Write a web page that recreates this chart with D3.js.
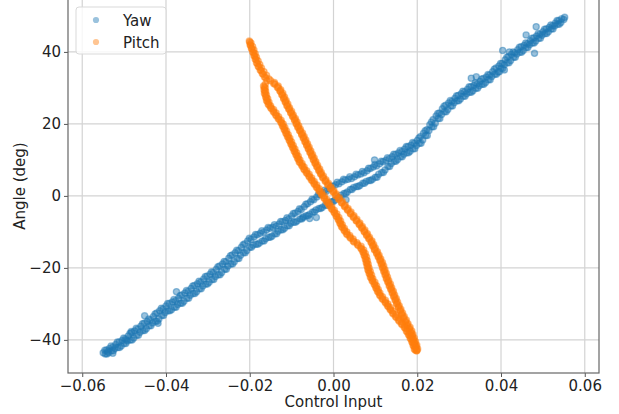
<!DOCTYPE html>
<html>
<head>
<meta charset="utf-8">
<script src="https://cdn.jsdelivr.net/npm/d3@7"></script>
<style>
  body { margin: 0; background: #fff; }
  text { font-family: "DejaVu Sans", sans-serif; }
</style>
</head>
<body>
<div id="chart"></div>
<script>

// tick labels and series
const xTicks = [-0.06, -0.04, -0.02, 0, 0.02, 0.04, 0.06];
const yTicks = [-40, -20, 0, 20, 40];
const seriesNames = ["Yaw", "Pitch"];
const seriesColors = ["#1f77b4", "#ff7f0e"];

// Yaw samples [control input, angle]: two branches of the loop, repeated passes, and strays
const yawUpper = [[-0.0550,-43.6],[-0.0535,-42.4],[-0.0520,-41.3],[-0.0505,-40.2],[-0.0490,-38.9],[-0.0475,-37.5],
  [-0.0460,-36.2],[-0.0445,-34.9],[-0.0430,-33.5],[-0.0415,-31.9],[-0.0400,-30.6],[-0.0385,-29.5],[-0.0370,-28.4],
  [-0.0355,-27.0],[-0.0340,-25.7],[-0.0325,-24.4],[-0.0310,-23.1],[-0.0295,-21.8],[-0.0280,-20.4],[-0.0265,-18.9],
  [-0.0250,-17.3],[-0.0235,-15.8],[-0.0220,-14.3],[-0.0205,-12.5],[-0.0190,-11.4],[-0.0175,-10.4],[-0.0160,-9.5],
  [-0.0145,-8.7],[-0.0130,-7.8],[-0.0115,-6.8],[-0.0100,-5.6],[-0.0085,-4.3],[-0.0070,-3.0],[-0.0055,-1.6],
  [-0.0040,-0.3],[-0.0025,0.9],[-0.0010,2.0],[0.0005,3.1],[0.0020,3.9],[0.0035,4.6],[0.0050,5.3],[0.0065,6.1],
  [0.0080,7.0],[0.0095,8.0],[0.0110,8.9],[0.0125,9.9],[0.0140,10.9],[0.0155,11.9],[0.0170,13.0],[0.0185,14.1],
  [0.0200,15.4],[0.0215,17.4],[0.0230,19.8],[0.0245,22.2],[0.0260,24.2],[0.0275,25.8],[0.0290,27.1],[0.0305,28.4],
  [0.0320,29.6],[0.0335,30.7],[0.0350,31.8],[0.0365,33.0],[0.0380,34.5],[0.0395,36.1],[0.0410,37.8],[0.0425,39.3],
  [0.0440,40.6],[0.0455,41.8],[0.0470,43.1],[0.0485,44.4],[0.0500,45.6],[0.0515,46.8],[0.0530,48.0],[0.0545,49.2]];

const yawUpper2 = [[-0.0542,-42.8],[-0.0527,-42.0],[-0.0512,-40.6],[-0.0497,-39.7],[-0.0482,-38.0],[-0.0467,-37.0],
  [-0.0452,-35.4],[-0.0437,-34.4],[-0.0422,-32.5],[-0.0407,-31.4],[-0.0392,-29.9],[-0.0377,-29.1],[-0.0362,-27.5],
  [-0.0347,-26.5],[-0.0332,-24.9],[-0.0317,-23.9],[-0.0302,-22.3],[-0.0287,-21.3],[-0.0272,-19.5],[-0.0257,-18.3],
  [-0.0242,-16.4],[-0.0227,-15.2],[-0.0212,-13.3],[-0.0197,-12.1],[-0.0182,-10.8],[-0.0167,-10.1],[-0.0152,-9.0],
  [-0.0137,-8.4],[-0.0122,-7.2],[-0.0107,-6.4],[-0.0092,-4.8],[-0.0077,-3.8],[-0.0062,-2.2],[-0.0047,-1.1],
  [-0.0032,0.4],[-0.0017,1.3],[-0.0002,2.7],[0.0013,3.4],[0.0028,4.4],[0.0043,4.8],[0.0058,5.8],[0.0073,6.4],
  [0.0088,7.6],[0.0103,8.3],[0.0118,9.5],[0.0133,10.3],[0.0148,11.5],[0.0163,12.3],[0.0178,13.7],[0.0193,14.6],
  [0.0208,16.5],[0.0223,18.4],[0.0238,21.2],[0.0253,23.0],[0.0268,25.2],[0.0283,26.3],[0.0298,27.9],[0.0313,28.9],
  [0.0328,30.3],[0.0343,31.1],[0.0358,32.6],[0.0373,33.6],[0.0388,35.5],[0.0403,36.8],[0.0418,38.7],[0.0433,39.8],
  [0.0448,41.4],[0.0463,42.3],[0.0478,43.9],[0.0493,44.9],[0.0508,46.4],[0.0523,47.3],[0.0538,48.7],[0.0552,49.6]];

const yawUpper3 = [[-0.0546,-42.9],[-0.0531,-41.7],[-0.0516,-40.6],[-0.0501,-39.5],[-0.0486,-38.2],[-0.0471,-36.8],
  [-0.0456,-35.5],[-0.0441,-34.2],[-0.0426,-32.8],[-0.0411,-31.2],[-0.0396,-29.9],[-0.0381,-28.8],[-0.0366,-27.7],
  [-0.0351,-26.3],[-0.0336,-25.0],[-0.0321,-23.7],[-0.0306,-22.4],[-0.0291,-21.1],[-0.0276,-19.7],[-0.0261,-18.2],
  [-0.0246,-16.6],[-0.0231,-15.1],[-0.0216,-13.6],[-0.0201,-11.8],[-0.0186,-10.7],[-0.0171,-9.7],[-0.0156,-8.8],
  [-0.0141,-8.0],[-0.0126,-7.1],[-0.0111,-6.1],[-0.0096,-4.9],[-0.0081,-3.6],[-0.0066,-2.3],[-0.0051,-0.9],
  [-0.0036,0.4],[-0.0021,1.6],[-0.0006,2.7],[0.0009,3.8],[0.0024,4.6],[0.0039,5.3],[0.0054,6.0],[0.0069,6.8],
  [0.0084,7.7],[0.0099,8.7],[0.0114,9.6],[0.0129,10.6],[0.0144,11.6],[0.0159,12.6],[0.0174,13.7],[0.0189,14.8],
  [0.0204,16.1],[0.0219,18.1],[0.0234,20.5],[0.0249,22.9],[0.0264,24.9],[0.0279,26.5],[0.0294,27.8],[0.0309,29.1],
  [0.0324,30.3],[0.0339,31.4],[0.0354,32.5],[0.0369,33.7],[0.0384,35.2],[0.0399,36.8],[0.0414,38.5],[0.0429,40.0],
  [0.0444,41.3],[0.0459,42.5],[0.0474,43.8],[0.0489,45.1],[0.0504,46.3],[0.0519,47.5],[0.0534,48.7]];

const yawLower = [[-0.0545,-43.9],[-0.0530,-43.0],[-0.0515,-42.1],[-0.0500,-41.0],[-0.0485,-40.0],[-0.0470,-38.7],
  [-0.0455,-37.4],[-0.0440,-36.1],[-0.0425,-34.8],[-0.0410,-33.2],[-0.0395,-31.9],[-0.0380,-30.9],[-0.0365,-29.8],
  [-0.0350,-28.4],[-0.0335,-27.1],[-0.0320,-25.8],[-0.0305,-24.5],[-0.0290,-23.2],[-0.0275,-21.9],[-0.0260,-20.4],
  [-0.0245,-18.9],[-0.0230,-17.4],[-0.0215,-15.8],[-0.0200,-14.3],[-0.0185,-13.4],[-0.0170,-12.5],[-0.0155,-11.5],
  [-0.0140,-10.5],[-0.0125,-9.4],[-0.0110,-8.3],[-0.0095,-7.3],[-0.0080,-6.4],[-0.0065,-5.5],[-0.0050,-4.5],
  [-0.0035,-3.5],[-0.0020,-2.6],[-0.0005,-1.6],[0.0010,-0.5],[0.0025,0.7],[0.0040,1.8],[0.0055,2.6],[0.0070,3.5],
  [0.0085,4.3],[0.0100,5.2],[0.0115,6.5],[0.0130,8.2],[0.0145,9.6],[0.0160,10.9],[0.0175,12.0],[0.0190,13.1],
  [0.0205,14.6],[0.0220,16.8],[0.0235,19.2],[0.0250,21.5],[0.0265,23.4],[0.0280,25.0],[0.0295,26.4],[0.0310,27.7],
  [0.0325,28.8],[0.0340,29.9],[0.0355,31.0],[0.0370,32.3],[0.0385,33.8],[0.0400,35.4],[0.0415,37.0],[0.0430,38.5],
  [0.0445,39.9],[0.0460,41.2],[0.0475,42.5],[0.0490,43.8],[0.0505,45.1],[0.0520,46.4],[0.0535,47.7],[0.0550,49.0]];

const yawLower2 = [[-0.0537,-43.6],[-0.0522,-42.4],[-0.0507,-41.7],[-0.0492,-40.3],[-0.0477,-39.5],[-0.0462,-37.9],
  [-0.0447,-36.9],[-0.0432,-35.3],[-0.0417,-34.2],[-0.0402,-32.4],[-0.0387,-31.6],[-0.0372,-30.2],[-0.0357,-29.3],
  [-0.0342,-27.6],[-0.0327,-26.6],[-0.0312,-25.0],[-0.0297,-24.0],[-0.0282,-22.4],[-0.0267,-21.3],[-0.0252,-19.5],
  [-0.0237,-18.3],[-0.0222,-16.5],[-0.0207,-15.2],[-0.0192,-13.7],[-0.0177,-13.1],[-0.0162,-11.9],[-0.0147,-11.2],
  [-0.0132,-9.8],[-0.0117,-9.0],[-0.0102,-7.6],[-0.0087,-7.0],[-0.0072,-5.8],[-0.0057,-5.1],[-0.0042,-3.9],
  [-0.0027,-3.2],[-0.0012,-2.0],[0.0003,-1.2],[0.0018,0.2],[0.0033,1.1],[0.0048,2.3],[0.0063,2.9],[0.0078,4.0],
  [0.0093,4.6],[0.0108,6.0],[0.0123,7.2],[0.0138,9.0],[0.0153,10.1],[0.0168,11.6],[0.0183,12.4],[0.0198,14.0],
  [0.0213,15.5],[0.0228,18.2],[0.0243,20.2],[0.0258,22.6],[0.0273,24.0],[0.0288,25.9],[0.0303,26.9],[0.0318,28.4],
  [0.0333,29.2],[0.0348,30.6],[0.0363,31.5],[0.0378,33.2],[0.0393,34.4],[0.0408,36.4],[0.0423,37.6],[0.0438,39.4],
  [0.0453,40.4],[0.0468,42.0],[0.0483,43.0],[0.0498,44.6],[0.0513,45.6],[0.0528,47.2],[0.0543,48.2]];

const yawLower3 = [[-0.0541,-43.9],[-0.0526,-43.0],[-0.0511,-42.1],[-0.0496,-41.0],[-0.0481,-40.0],[-0.0466,-38.7],
  [-0.0451,-37.4],[-0.0436,-36.1],[-0.0421,-34.8],[-0.0406,-33.2],[-0.0391,-31.9],[-0.0376,-30.9],[-0.0361,-29.8],
  [-0.0346,-28.4],[-0.0331,-27.1],[-0.0316,-25.8],[-0.0301,-24.5],[-0.0286,-23.2],[-0.0271,-21.9],[-0.0256,-20.4],
  [-0.0241,-18.9],[-0.0226,-17.4],[-0.0211,-15.8],[-0.0196,-14.3],[-0.0181,-13.4],[-0.0166,-12.5],[-0.0151,-11.5],
  [-0.0136,-10.5],[-0.0121,-9.4],[-0.0106,-8.3],[-0.0091,-7.3],[-0.0076,-6.4],[-0.0061,-5.5],[-0.0046,-4.5],
  [-0.0031,-3.5],[-0.0016,-2.6],[-0.0001,-1.6],[0.0014,-0.5],[0.0029,0.7],[0.0044,1.8],[0.0059,2.6],[0.0074,3.5],
  [0.0089,4.3],[0.0104,5.2],[0.0119,6.5],[0.0134,8.2],[0.0149,9.6],[0.0164,10.9],[0.0179,12.0],[0.0194,13.1],
  [0.0209,14.6],[0.0224,16.8],[0.0239,19.2],[0.0254,21.5],[0.0269,23.4],[0.0284,25.0],[0.0299,26.4],[0.0314,27.7],
  [0.0329,28.8],[0.0344,29.9],[0.0359,31.0],[0.0374,32.3],[0.0389,33.8],[0.0404,35.4],[0.0419,37.0],[0.0434,38.5],
  [0.0449,39.9],[0.0464,41.2],[0.0479,42.5],[0.0494,43.8],[0.0509,45.1],[0.0524,46.4],[0.0539,47.7]];

const yawStray = [[-0.0539,-43.2],[-0.0527,-43.7],[-0.0495,-40.0],[-0.0483,-37.7],[-0.0451,-33.3],[-0.0419,-35.4],
  [-0.0375,-26.6],[-0.0073,-6.1],[-0.0057,-6.3],[-0.0041,-6.0],[0.0030,-1.1],[0.0098,10.0],[0.0329,32.7],
  [0.0341,33.1],[0.0396,34.5],[0.0404,40.4],[0.0408,35.0],[0.0420,40.0],[0.0460,44.7],[0.0480,39.6],[0.0484,47.0]];

// Pitch samples [control input, angle]: tip of the loop, its two strands, repeated passes
const pitchTip = [[-0.0201,43.0],[-0.0199,42.0],[-0.0196,41.0],[-0.0193,40.0],[-0.0190,39.0],[-0.0187,38.0],
  [-0.0184,37.0],[-0.0180,36.0],[-0.0175,35.0],[-0.0170,34.0],[-0.0165,33.0],[-0.0159,32.0],
  [-0.0197,42.5],[-0.0193,41.5],[-0.0190,40.5],[-0.0187,39.5],[-0.0184,38.5],[-0.0180,37.5],[-0.0176,36.5],
  [-0.0172,35.5],[-0.0166,34.5],[-0.0160,33.5],[-0.0154,32.5],
  [-0.0200,42.7],[-0.0198,41.8],[-0.0195,40.8],[-0.0191,39.8],[-0.0188,38.8],[-0.0185,37.8],[-0.0182,36.8],
  [-0.0178,35.8],[-0.0173,34.8],[-0.0168,33.8],[-0.0162,32.8]];

const pitchOuter = [[-0.0150,32],[-0.0140,31],[-0.0132,30],[-0.0127,29],[-0.0123,28],[-0.0119,27],[-0.0115,26],
  [-0.0111,25],[-0.0106,24],[-0.0102,23],[-0.0097,22],[-0.0093,21],[-0.0089,20],[-0.0085,19],[-0.0080,18],
  [-0.0076,17],[-0.0072,16],[-0.0068,15],[-0.0064,14],[-0.0060,13],[-0.0056,12],[-0.0052,11],[-0.0048,10],
  [-0.0044,9],[-0.0039,8],[-0.0035,7],[-0.0030,6],[-0.0025,5],[-0.0019,4],[-0.0013,3],[-0.0006,2],[0.0000,1],
  [0.0006,0],[0.0013,-1],[0.0020,-2],[0.0027,-3],[0.0034,-4],[0.0041,-5],[0.0048,-6],[0.0055,-7],[0.0062,-8],
  [0.0068,-9],[0.0074,-10],[0.0079,-11],[0.0085,-12],[0.0090,-13],[0.0094,-14],[0.0098,-15],[0.0103,-16],
  [0.0107,-17],[0.0111,-18],[0.0114,-19],[0.0117,-20],[0.0120,-21],[0.0123,-22],[0.0126,-23],[0.0130,-24],
  [0.0133,-25],[0.0137,-26],[0.0140,-27],[0.0144,-28],[0.0147,-29],[0.0151,-30],[0.0155,-31],[0.0159,-32],
  [0.0163,-33],[0.0167,-34],[0.0172,-35],[0.0176,-36],[0.0181,-37],[0.0185,-38],[0.0188,-39],[0.0191,-40],
  [0.0194,-41],[0.0197,-42],[0.0199,-43]];

const pitchOuter2 = [[-0.0141,31.5],[-0.0132,30.5],[-0.0126,29.5],[-0.0121,28.5],[-0.0117,27.5],[-0.0113,26.5],
  [-0.0109,25.5],[-0.0105,24.5],[-0.0100,23.5],[-0.0096,22.5],[-0.0091,21.5],[-0.0087,20.5],[-0.0083,19.5],
  [-0.0079,18.5],[-0.0074,17.5],[-0.0070,16.5],[-0.0066,15.5],[-0.0062,14.5],[-0.0058,13.5],[-0.0054,12.5],
  [-0.0050,11.5],[-0.0046,10.5],[-0.0042,9.5],[-0.0038,8.5],[-0.0033,7.5],[-0.0029,6.5],[-0.0024,5.5],
  [-0.0018,4.5],[-0.0012,3.5],[-0.0006,2.5],[0.0001,1.5],[0.0007,0.5],[0.0014,-0.5],[0.0021,-1.5],[0.0028,-2.5],
  [0.0035,-3.5],[0.0042,-4.5],[0.0049,-5.5],[0.0056,-6.5],[0.0063,-7.5],[0.0069,-8.5],[0.0075,-9.5],[0.0081,-10.5],
  [0.0086,-11.5],[0.0092,-12.5],[0.0096,-13.5],[0.0100,-14.5],[0.0105,-15.5],[0.0109,-16.5],[0.0113,-17.5],
  [0.0117,-18.5],[0.0120,-19.5],[0.0123,-20.5],[0.0126,-21.5],[0.0129,-22.5],[0.0132,-23.5],[0.0136,-24.5],
  [0.0139,-25.5],[0.0143,-26.5],[0.0146,-27.5],[0.0150,-28.5],[0.0153,-29.5],[0.0157,-30.5],[0.0161,-31.5],
  [0.0165,-32.5],[0.0169,-33.5],[0.0174,-34.5],[0.0178,-35.5],[0.0183,-36.5],[0.0187,-37.5],[0.0190,-38.5],
  [0.0193,-39.5],[0.0196,-40.5],[0.0199,-41.5],[0.0201,-42.5]];

const pitchOuter3 = [[-0.0143,31.2],[-0.0134,30.2],[-0.0128,29.2],[-0.0123,28.2],[-0.0119,27.2],[-0.0115,26.2],
  [-0.0111,25.2],[-0.0107,24.2],[-0.0102,23.2],[-0.0098,22.2],[-0.0093,21.2],[-0.0089,20.2],[-0.0085,19.2],
  [-0.0081,18.2],[-0.0076,17.2],[-0.0072,16.2],[-0.0068,15.2],[-0.0064,14.2],[-0.0060,13.2],[-0.0056,12.2],
  [-0.0052,11.2],[-0.0048,10.2],[-0.0044,9.2],[-0.0040,8.2],[-0.0035,7.2],[-0.0031,6.2],[-0.0026,5.2],
  [-0.0020,4.2],[-0.0014,3.2],[-0.0008,2.2],[-0.0001,1.2],[0.0005,0.2],[0.0012,-0.8],[0.0019,-1.8],[0.0026,-2.8],
  [0.0033,-3.8],[0.0040,-4.8],[0.0047,-5.8],[0.0054,-6.8],[0.0061,-7.8],[0.0067,-8.8],[0.0073,-9.8],[0.0079,-10.8],
  [0.0084,-11.8],[0.0090,-12.8],[0.0094,-13.8],[0.0098,-14.8],[0.0103,-15.8],[0.0107,-16.8],[0.0111,-17.8],
  [0.0115,-18.8],[0.0118,-19.8],[0.0121,-20.8],[0.0124,-21.8],[0.0127,-22.8],[0.0130,-23.8],[0.0134,-24.8],
  [0.0137,-25.8],[0.0141,-26.8],[0.0144,-27.8],[0.0148,-28.8],[0.0151,-29.8],[0.0155,-30.8],[0.0159,-31.8],
  [0.0163,-32.8],[0.0167,-33.8],[0.0172,-34.8],[0.0176,-35.8],[0.0181,-36.8],[0.0185,-37.8],[0.0188,-38.8],
  [0.0191,-39.8],[0.0194,-40.8],[0.0197,-41.8],[0.0199,-42.8]];

const pitchInner = [[-0.0163,31],[-0.0163,30],[-0.0162,29],[-0.0160,28],[-0.0157,27],[-0.0154,26],[-0.0150,25],
  [-0.0143,24],[-0.0137,23],[-0.0131,22],[-0.0125,21],[-0.0120,20],[-0.0116,19],[-0.0112,18],[-0.0108,17],
  [-0.0104,16],[-0.0100,15],[-0.0096,14],[-0.0092,13],[-0.0088,12],[-0.0084,11],[-0.0080,10],[-0.0075,9],
  [-0.0070,8],[-0.0064,7],[-0.0058,6],[-0.0052,5],[-0.0046,4],[-0.0040,3],[-0.0034,2],[-0.0028,1],[-0.0022,0],
  [-0.0016,-1],[-0.0010,-2],[-0.0004,-3],[0.0002,-4],[0.0008,-5],[0.0013,-6],[0.0017,-7],[0.0021,-8],
  [0.0026,-9],[0.0032,-10],[0.0039,-11],[0.0047,-12],[0.0056,-13],[0.0066,-14],[0.0072,-15],[0.0076,-16],
  [0.0079,-17],[0.0081,-18],[0.0083,-19],[0.0085,-20],[0.0088,-21],[0.0091,-22],[0.0094,-23],[0.0099,-24],
  [0.0103,-25],[0.0107,-26],[0.0111,-27],[0.0117,-28],[0.0124,-29],[0.0130,-30],[0.0136,-31],[0.0142,-32],
  [0.0149,-33],[0.0156,-34],[0.0163,-35],[0.0170,-36],[0.0176,-37],[0.0181,-38],[0.0185,-39],[0.0189,-40],
  [0.0192,-41],[0.0195,-42],[0.0198,-43]];

const pitchInner2 = [[-0.0167,30.5],[-0.0166,29.5],[-0.0165,28.5],[-0.0162,27.5],[-0.0160,26.5],[-0.0156,25.5],
  [-0.0150,24.5],[-0.0144,23.5],[-0.0138,22.5],[-0.0132,21.5],[-0.0126,20.5],[-0.0122,19.5],[-0.0118,18.5],
  [-0.0114,17.5],[-0.0110,16.5],[-0.0106,15.5],[-0.0102,14.5],[-0.0098,13.5],[-0.0094,12.5],[-0.0090,11.5],
  [-0.0086,10.5],[-0.0082,9.5],[-0.0076,8.5],[-0.0071,7.5],[-0.0065,6.5],[-0.0059,5.5],[-0.0053,4.5],
  [-0.0047,3.5],[-0.0041,2.5],[-0.0035,1.5],[-0.0029,0.5],[-0.0023,-0.5],[-0.0017,-1.5],[-0.0011,-2.5],
  [-0.0005,-3.5],[0.0001,-4.5],[0.0006,-5.5],[0.0011,-6.5],[0.0015,-7.5],[0.0019,-8.5],[0.0025,-9.5],
  [0.0031,-10.5],[0.0039,-11.5],[0.0047,-12.5],[0.0057,-13.5],[0.0065,-14.5],[0.0070,-15.5],[0.0073,-16.5],
  [0.0076,-17.5],[0.0078,-18.5],[0.0080,-19.5],[0.0082,-20.5],[0.0085,-21.5],[0.0088,-22.5],[0.0092,-23.5],
  [0.0097,-24.5],[0.0101,-25.5],[0.0105,-26.5],[0.0110,-27.5],[0.0116,-28.5],[0.0123,-29.5],[0.0129,-30.5],
  [0.0135,-31.5],[0.0141,-32.5],[0.0148,-33.5],[0.0155,-34.5],[0.0162,-35.5],[0.0169,-36.5],[0.0174,-37.5],
  [0.0179,-38.5],[0.0183,-39.5],[0.0187,-40.5],[0.0190,-41.5],[0.0193,-42.5]];

const pitchInner3 = [[-0.0165,30.2],[-0.0164,29.2],[-0.0163,28.2],[-0.0160,27.2],[-0.0158,26.2],[-0.0154,25.2],
  [-0.0148,24.2],[-0.0142,23.2],[-0.0136,22.2],[-0.0130,21.2],[-0.0124,20.2],[-0.0120,19.2],[-0.0116,18.2],
  [-0.0112,17.2],[-0.0108,16.2],[-0.0104,15.2],[-0.0100,14.2],[-0.0096,13.2],[-0.0092,12.2],[-0.0088,11.2],
  [-0.0084,10.2],[-0.0080,9.2],[-0.0074,8.2],[-0.0069,7.2],[-0.0063,6.2],[-0.0057,5.2],[-0.0051,4.2],
  [-0.0045,3.2],[-0.0039,2.2],[-0.0033,1.2],[-0.0027,0.2],[-0.0021,-0.8],[-0.0015,-1.8],[-0.0009,-2.8],
  [-0.0003,-3.8],[0.0003,-4.8],[0.0008,-5.8],[0.0013,-6.8],[0.0017,-7.8],[0.0021,-8.8],[0.0027,-9.8],
  [0.0033,-10.8],[0.0041,-11.8],[0.0049,-12.8],[0.0059,-13.8],[0.0067,-14.8],[0.0072,-15.8],[0.0075,-16.8],
  [0.0078,-17.8],[0.0080,-18.8],[0.0082,-19.8],[0.0084,-20.8],[0.0087,-21.8],[0.0090,-22.8],[0.0094,-23.8],
  [0.0099,-24.8],[0.0103,-25.8],[0.0107,-26.8],[0.0112,-27.8],[0.0118,-28.8],[0.0125,-29.8],[0.0131,-30.8],
  [0.0137,-31.8],[0.0143,-32.8],[0.0150,-33.8],[0.0157,-34.8],[0.0164,-35.8],[0.0171,-36.8],[0.0176,-37.8],
  [0.0181,-38.8],[0.0185,-39.8],[0.0189,-40.8],[0.0192,-41.8],[0.0195,-42.8]];

// constants for plot design
const FRAME_WIDTH = 619;
const FRAME_HEIGHT = 414;
const MARGINS = {left: 68, right: 20, top: -1, bottom: 41};
const VIS_WIDTH = FRAME_WIDTH - MARGINS.left - MARGINS.right;
const VIS_HEIGHT = FRAME_HEIGHT - MARGINS.top - MARGINS.bottom;
const DOT_R = 3.1;
const DOT_ALPHA = 0.45;

// scales
const xScale = d3.scaleLinear()
                 .domain([-0.0634, 0.0634])
                 .range([0, VIS_WIDTH]);

const yScale = d3.scaleLinear()
                 .domain([-49.2, 54.7])
                 .range([VIS_HEIGHT, 0]);

const svg = d3.select("#chart")
              .append("svg")
                .attr("width", FRAME_WIDTH)
                .attr("height", FRAME_HEIGHT);

const plot = svg.append("g")
                .attr("transform", "translate(" + MARGINS.left + "," + MARGINS.top + ")");

// grid
plot.append("g")
    .selectAll("line")
    .data(xTicks)
    .join("line")
      .attr("x1", d => xScale(d)).attr("x2", d => xScale(d))
      .attr("y1", 0).attr("y2", VIS_HEIGHT)
      .attr("stroke", "#d3d3d3").attr("stroke-width", 1.2);

plot.append("g")
    .selectAll("line")
    .data(yTicks)
    .join("line")
      .attr("x1", 0).attr("x2", VIS_WIDTH)
      .attr("y1", d => yScale(d)).attr("y2", d => yScale(d))
      .attr("stroke", "#d3d3d3").attr("stroke-width", 1.2);

// scatter: markers get a same-colour edge, like the plotting library draws them
function drawDots(data, color) {
  plot.append("g")
      .selectAll("circle")
      .data(data)
      .join("circle")
        .attr("cx", d => xScale(d[0]))
        .attr("cy", d => yScale(d[1]))
        .attr("r", DOT_R)
        .attr("fill", color)
        .attr("fill-opacity", DOT_ALPHA)
        .attr("stroke", color)
        .attr("stroke-opacity", DOT_ALPHA)
        .attr("stroke-width", 1.3);
}

[yawUpper, yawUpper2, yawUpper3, yawLower, yawLower2, yawLower3, yawStray]
  .forEach(s => drawDots(s, seriesColors[0]));
[pitchTip, pitchOuter, pitchOuter2, pitchOuter3, pitchInner, pitchInner2, pitchInner3]
  .forEach(s => drawDots(s, seriesColors[1]));

// axes
const xAxis = plot.append("g")
    .attr("transform", "translate(0," + VIS_HEIGHT + ")")
    .call(d3.axisBottom(xScale).tickValues(xTicks).tickFormat(d3.format(".2f")).tickSize(4).tickPadding(3));

const yAxis = plot.append("g")
    .call(d3.axisLeft(yScale).tickValues(yTicks).tickFormat(d3.format("d")).tickSize(4).tickPadding(3));

[xAxis, yAxis].forEach(a => {
  a.select(".domain").remove();
  a.selectAll(".tick line").attr("stroke", "#555");
  a.selectAll(".tick text")
    .attr("font-size", "15px")
    .attr("fill", "#222")
    .attr("font-family", "DejaVu Sans, sans-serif");
});

// spines
plot.append("rect")
    .attr("x", 0).attr("y", 0)
    .attr("width", VIS_WIDTH).attr("height", VIS_HEIGHT)
    .attr("fill", "none")
    .attr("stroke", "#666")
    .attr("stroke-width", 1.2);

// axis labels
svg.append("text")
   .attr("x", MARGINS.left + VIS_WIDTH / 2)
   .attr("y", 407)
   .attr("text-anchor", "middle")
   .attr("font-size", "15px")
   .attr("fill", "#222")
   .text("Control Input");

svg.append("text")
   .attr("transform", "translate(25," + (MARGINS.top + VIS_HEIGHT / 2) + ") rotate(-90)")
   .attr("text-anchor", "middle")
   .attr("font-size", "15px")
   .attr("fill", "#222")
   .text("Angle (deg)");

// legend
const legend = svg.append("g").attr("transform", "translate(76,7)");
legend.append("rect")
      .attr("width", 90).attr("height", 47).attr("rx", 3)
      .attr("fill", "#fff").attr("fill-opacity", 0.8)
      .attr("stroke", "#d9d9d9");

seriesNames.forEach((name, i) => {
  legend.append("circle")
        .attr("cx", 20).attr("cy", 13 + i * 22)
        .attr("r", DOT_R)
        .attr("fill", seriesColors[i])
        .attr("fill-opacity", DOT_ALPHA);
  legend.append("text")
        .attr("x", 47).attr("y", 18.5 + i * 22)
        .attr("font-size", "15px")
        .attr("fill", "#222")
        .text(name);
});

</script>
</body>
</html>
